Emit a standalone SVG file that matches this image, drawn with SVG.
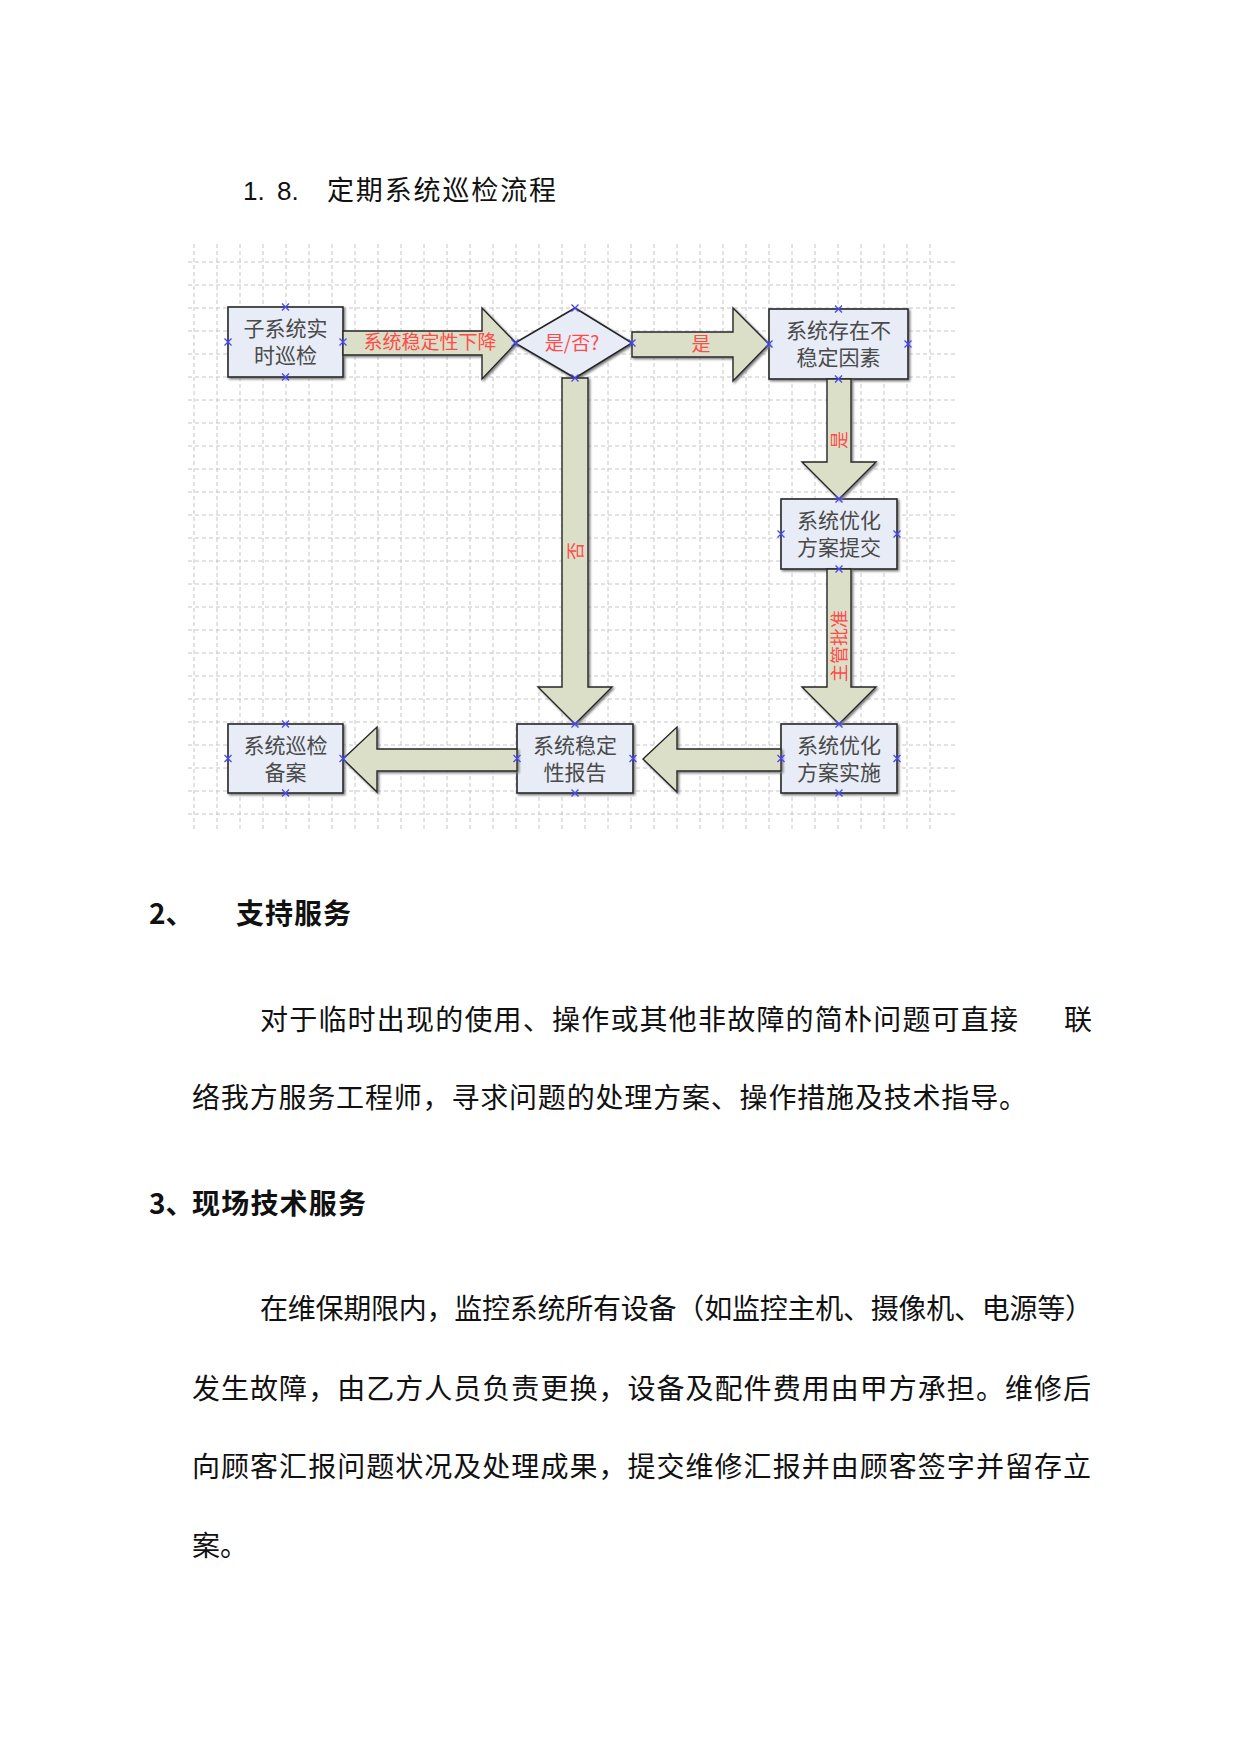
<svg xmlns="http://www.w3.org/2000/svg" width="1241" height="1754" viewBox="0 0 1241 1754">
<style>
.grid{stroke:#c6c6c6;stroke-width:1;stroke-dasharray:4 3;fill:none}
.box{fill:#e7ecf6;stroke:#262626;stroke-width:1.6;filter:url(#sh)}
.arr{fill:#dcdfc7;stroke:#262626;stroke-width:1.4;filter:url(#sh)}
.bt{font-family:"Noto Sans CJK SC",sans-serif;font-size:21px;fill:#4a4a4a;text-anchor:middle}
.lbl{font-family:"Noto Sans CJK SC",sans-serif;font-size:18px;fill:#ff4a4a;text-anchor:middle}
.body{font-family:"Noto Sans CJK SC",sans-serif;font-size:28px;fill:#111}
.h{font-weight:bold}
.mk{stroke:#4646ff;stroke-width:1.3;fill:none}
</style>
<defs>
<filter id="sh" x="-10%" y="-10%" width="130%" height="130%">
<feDropShadow dx="1.5" dy="1.5" stdDeviation="0.8" flood-color="#777"/>
</filter>
<path id="mk" class="mk" d="M-3.5,-3.5L3.5,3.5M-3.5,3.5L3.5,-3.5"/>
</defs>
<rect width="1241" height="1754" fill="#fff"/>

<text class="body" x="243" y="200" style="font-family:'Liberation Sans',sans-serif;font-size:26px">1.</text>
<text class="body" x="277" y="200" style="font-family:'Liberation Sans',sans-serif;font-size:26px">8.</text>
<text class="body" x="327" y="200" style="font-size:27px" textLength="229" lengthAdjust="spacing">定期系统巡检流程</text>

<g id="grid">
<path class="grid" d="M194 244V832M217 244V832M240 244V832M263 244V832M286 244V832M309 244V832M332 244V832M355 244V832M378 244V832M401 244V832M424 244V832M447 244V832M470 244V832M493 244V832M516 244V832M539 244V832M562 244V832M585 244V832M608 244V832M631 244V832M654 244V832M677 244V832M700 244V832M723 244V832M746 244V832M769 244V832M792 244V832M815 244V832M838 244V832M861 244V832M884 244V832M907 244V832M930 244V832"/>
<path class="grid" d="M188 262H955M188 285H955M188 308H955M188 331H955M188 354H955M188 377H955M188 400H955M188 423H955M188 446H955M188 469H955M188 492H955M188 515H955M188 538H955M188 561H955M188 584H955M188 607H955M188 630H955M188 653H955M188 676H955M188 699H955M188 722H955M188 745H955M188 768H955M188 791H955M188 814H955"/>
</g>

<g id="node-inspect">
<rect class="box" x="228" y="307" width="115" height="70"/>
<text class="bt" x="285.5" y="336">子系统实</text>
<text class="bt" x="285.5" y="363">时巡检</text>
</g>
<g id="node-decision">
<polygon class="box" points="515,343 575,308 632,343 575,378"/>
<text class="lbl" x="572" y="350" style="font-size:19px">是/否?</text>
</g>
<g id="node-unstable">
<rect class="box" x="769" y="309" width="139" height="70"/>
<text class="bt" x="838.5" y="338">系统存在不</text>
<text class="bt" x="838.5" y="365">稳定因素</text>
</g>
<g id="node-submit">
<rect class="box" x="781" y="499" width="116" height="70"/>
<text class="bt" x="839" y="528">系统优化</text>
<text class="bt" x="839" y="555">方案提交</text>
</g>
<g id="node-implement">
<rect class="box" x="781" y="724" width="116" height="69"/>
<text class="bt" x="839" y="753">系统优化</text>
<text class="bt" x="839" y="780">方案实施</text>
</g>
<g id="node-report">
<rect class="box" x="517" y="724" width="116" height="69"/>
<text class="bt" x="575" y="753">系统稳定</text>
<text class="bt" x="575" y="780">性报告</text>
</g>
<g id="node-archive">
<rect class="box" x="228" y="724" width="115" height="69"/>
<text class="bt" x="285.5" y="753">系统巡检</text>
<text class="bt" x="285.5" y="780">备案</text>
</g>

<g id="connectors">
<polygon class="arr" points="343,331 482,331 482,308 516,343 482,379 482,355 343,355"/>
<polygon class="arr" points="632,332 733,332 733,308 769,344 733,381 733,357 632,357"/>
<polygon class="arr" points="827,379 851,379 851,462 876,462 839,499 802,462 827,462"/>
<polygon class="arr" points="827,569 851,569 851,687 876,687 839,724 802,687 827,687"/>
<polygon class="arr" points="562,378 588,378 588,687 612,687 575,724 538,687 562,687"/>
<polygon class="arr" points="781,749 677,749 677,727 643,759 677,792 677,771 781,771"/>
<polygon class="arr" points="517,749 377,749 377,727 343,759 377,792 377,771 517,771"/>
<text class="lbl" x="430" y="349" style="font-size:19px">系统稳定性下降</text>
<text class="lbl" x="701" y="351" style="font-size:19px">是</text>
<text class="lbl" transform="translate(839,440) rotate(-90)" x="0" y="7">是</text>
<text class="lbl" transform="translate(839,646) rotate(-90)" x="0" y="7">主管批准</text>
<text class="lbl" transform="translate(575,551) rotate(-90)" x="0" y="7">否</text>
</g>

<g id="handles">
<use href="#mk" x="285.5" y="307"/><use href="#mk" x="285.5" y="377"/><use href="#mk" x="228" y="342"/><use href="#mk" x="343" y="342"/>
<use href="#mk" x="575" y="308"/><use href="#mk" x="515" y="343"/><use href="#mk" x="632" y="343"/><use href="#mk" x="575" y="378"/>
<use href="#mk" x="838.5" y="309"/><use href="#mk" x="838.5" y="379"/><use href="#mk" x="769" y="344"/><use href="#mk" x="908" y="344"/>
<use href="#mk" x="839" y="499"/><use href="#mk" x="839" y="569"/><use href="#mk" x="781" y="534"/><use href="#mk" x="897" y="534"/>
<use href="#mk" x="839" y="724"/><use href="#mk" x="839" y="793"/><use href="#mk" x="781" y="758.5"/><use href="#mk" x="897" y="758.5"/>
<use href="#mk" x="575" y="724"/><use href="#mk" x="575" y="793"/><use href="#mk" x="517" y="758.5"/><use href="#mk" x="633" y="758.5"/>
<use href="#mk" x="285.5" y="724"/><use href="#mk" x="285.5" y="793"/><use href="#mk" x="228" y="758.5"/><use href="#mk" x="343" y="758.5"/>
</g>

<text class="body h" x="149" y="924">2、</text>
<text class="body h" x="236" y="924" textLength="115" lengthAdjust="spacing">支持服务</text>
<text class="body" x="260" y="1030" textLength="758" lengthAdjust="spacing">对于临时出现的使用、操作或其他非故障的简朴问题可直接</text>
<text class="body" x="1064" y="1030">联</text>
<text class="body" x="192" y="1108" textLength="835" lengthAdjust="spacing">络我方服务工程师，寻求问题的处理方案、操作措施及技术指导。</text>
<text class="body h" x="149" y="1214">3、</text>
<text class="body h" x="192" y="1214" textLength="174" lengthAdjust="spacing">现场技术服务</text>
<text class="body" x="260" y="1319" textLength="833" lengthAdjust="spacing">在维保期限内，监控系统所有设备（如监控主机、摄像机、电源等）</text>
<text class="body" x="192" y="1399" textLength="899" lengthAdjust="spacing">发生故障，由乙方人员负责更换，设备及配件费用由甲方承担。维修后</text>
<text class="body" x="192" y="1477" textLength="899" lengthAdjust="spacing">向顾客汇报问题状况及处理成果，提交维修汇报并由顾客签字并留存立</text>
<text class="body" x="192" y="1556">案。</text>
</svg>
